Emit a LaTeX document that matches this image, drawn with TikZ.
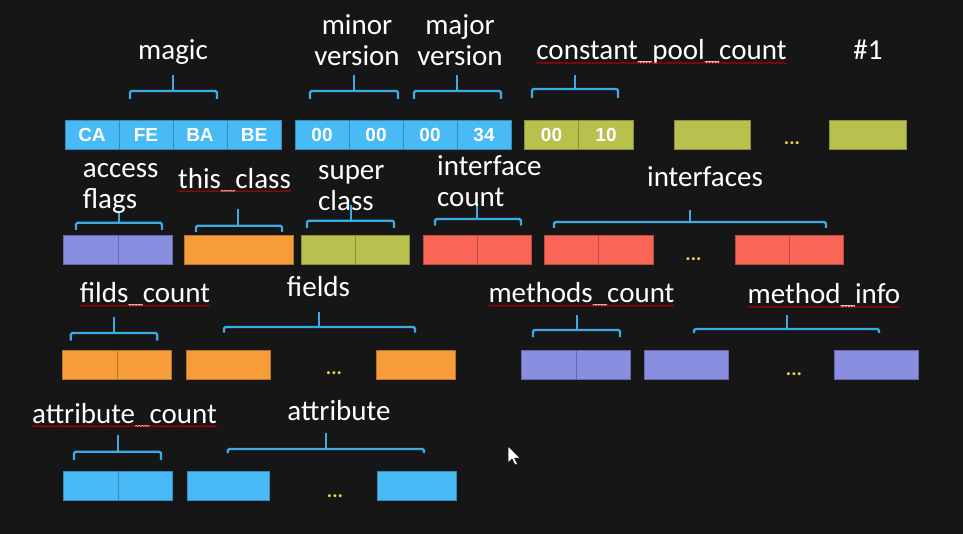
\documentclass[tikz,border=0pt]{standalone}
\usepackage{fontspec}
\setmainfont{Carlito}
\newfontfamily\zellfont{Liberation Sans}
\usetikzlibrary{decorations.pathmorphing}

\definecolor{tafel}{RGB}{22,22,22}
\definecolor{klammerblau}{RGB}{60,170,228}
\definecolor{hellblau}{RGB}{72,186,245}
\definecolor{gelbgruen}{RGB}{184,192,78}
\definecolor{lila}{RGB}{137,142,224}
\definecolor{kastorange}{RGB}{246,156,56}
\definecolor{kastrot}{RGB}{250,102,86}
\definecolor{punktgelb}{RGB}{235,210,70}

\tikzset{
	zelle/.style={draw=#1!75!black, fill=#1, line width=0.8pt, minimum height=28.5pt, inner sep=0pt,
		text=white, font=\zellfont\bfseries\fontsize{19}{19}\selectfont},
	etikett/.style={text=white, inner sep=0pt, font=\fontsize{29}{31}\selectfont},
	klammerstil/.style={draw=klammerblau, line width=2.2pt},
	punkte/.style={text=punktgelb, inner sep=0pt, font=\bfseries\fontsize{20}{20}\selectfont},
	welle/.style={draw=red!75!black, line width=0.7pt, decorate,
		decoration={snake, amplitude=0.7pt, segment length=3pt}}
}

% geschweifte Klammer: links, rechts, Stiel, y Balken, y Enden, y oben
\newcommand{\klammer}[6]{
	\draw[klammerstil, rounded corners=1.5pt] (#1,#5) -- (#1,#4) -- (#2,#4) -- (#2,#5);
	\draw[klammerstil] (#3,#4) -- (#3,#6);
}
% Rechtschreib-Welle unter einem Etikett
\newcommand{\welle}[1]{
	\draw[welle] ([yshift=-3pt]#1.base west) -- ([yshift=-3pt]#1.base east);
}

\begin{document}
\begin{tikzpicture}[x=1pt, y=-1pt]
	%Tafel
	\fill[tafel] (0,0) rectangle (963,534);
	\useasboundingbox (0,0) rectangle (963,534);

	%Zeile 1
	\node[zelle=hellblau, minimum width=54pt] (ca) at (92,135) {CA};
	\node[zelle=hellblau, minimum width=54pt] (fe) at (146,135) {FE};
	\node[zelle=hellblau, minimum width=54pt] (ba) at (200,135) {BA};
	\node[zelle=hellblau, minimum width=54pt] (be) at (254,135) {BE};
	\node[zelle=hellblau, minimum width=54pt] (mi1) at (322,135) {00};
	\node[zelle=hellblau, minimum width=54pt] (mi2) at (376,135) {00};
	\node[zelle=hellblau, minimum width=54pt] (ma1) at (430,135) {00};
	\node[zelle=hellblau, minimum width=54pt] (ma2) at (484,135) {34};
	\node[zelle=gelbgruen, minimum width=54.5pt] (cpc1) at (551.5,135) {00};
	\node[zelle=gelbgruen, minimum width=54.5pt] (cpc2) at (606,135) {10};
	\node[zelle=gelbgruen, minimum width=76pt] (cp1) at (712,135) {};
	\node[punkte, anchor=base] (dots1) at (792,145) {...};
	\node[zelle=gelbgruen, minimum width=77pt] (cp2) at (867.5,135) {};

	\klammer{130}{217}{173}{91}{99}{75}
	\klammer{310}{398}{354}{91}{99}{75}
	\klammer{414}{501}{457}{91}{99}{75}
	\klammer{532}{618}{575}{89}{98}{75}

	\node[etikett, anchor=base] (lmagic) at (173,60) {magic};
	\node[etikett, anchor=base, align=center] (lminor) at (357,66) {minor\\version};
	\node[etikett, anchor=base, align=center] (lmajor) at (460,66) {major\\version};
	\node[etikett, anchor=base] (lcpc) at (661.5,60) {constant\_pool\_count};
	\node[etikett, anchor=base] (lnr) at (868,60) {\#1};
	\welle{lcpc}

	%Zeile 2
	\node[zelle=lila, minimum width=54.5pt] (af1) at (91,250) {};
	\node[zelle=lila, minimum width=54.5pt] (af2) at (145.5,250) {};
	\node[zelle=kastorange, minimum width=109pt] (tc) at (238.5,250) {};
	\node[zelle=gelbgruen, minimum width=54pt] (sc1) at (328.5,250) {};
	\node[zelle=gelbgruen, minimum width=54pt] (sc2) at (382.5,250) {};
	\node[zelle=kastrot, minimum width=54pt] (ic1) at (450,250) {};
	\node[zelle=kastrot, minimum width=54pt] (ic2) at (504,250) {};
	\node[zelle=kastrot, minimum width=54.5pt] (if1) at (571.5,250) {};
	\node[zelle=kastrot, minimum width=54.5pt] (if2) at (626,250) {};
	\node[punkte, anchor=base] (dots2) at (693.5,261) {...};
	\node[zelle=kastrot, minimum width=54pt] (if3) at (762,250) {};
	\node[zelle=kastrot, minimum width=54pt] (if4) at (816,250) {};

	\klammer{76}{162}{119}{222.7}{230}{211.7}
	\klammer{196}{282}{238}{225.7}{232}{209}
	\klammer{307}{394}{351}{220.7}{228}{205}
	\klammer{435}{521}{477}{219}{225.7}{203}
	\klammer{554}{826}{690}{222}{228}{210}

	\node[etikett, anchor=base west, align=left] (laccess) at (82.7,208.3) {access\\flags};
	\node[etikett, anchor=base] (lthis) at (234.5,188.3) {this\_class};
	\node[etikett, anchor=base west, align=left] (lsuper) at (318,211) {super\\class};
	\node[etikett, anchor=base west, align=left] (lic) at (437,206.7) {interface\\count};
	\node[etikett, anchor=base] (lif) at (705,187) {interfaces};
	\welle{lthis}

	%Zeile 3
	\node[zelle=kastorange, minimum width=54.5pt] (fc1) at (90,365) {};
	\node[zelle=kastorange, minimum width=54.5pt] (fc2) at (144.5,365) {};
	\node[zelle=kastorange, minimum width=84pt] (fd1) at (228,365) {};
	\node[punkte, anchor=base] (dots3) at (334,374) {...};
	\node[zelle=kastorange, minimum width=79pt] (fd2) at (415.5,365) {};
	\node[zelle=lila, minimum width=54.5pt] (mc1) at (549,365) {};
	\node[zelle=lila, minimum width=54.5pt] (mc2) at (603.5,365) {};
	\node[zelle=lila, minimum width=84pt] (mt1) at (686,365) {};
	\node[punkte, anchor=base] (dots4) at (794,375) {...};
	\node[zelle=lila, minimum width=84pt] (mt2) at (876,365) {};

	\klammer{70.7}{157.3}{114}{333}{340.7}{316.7}
	\klammer{224}{415}{319}{327}{332.7}{311.7}
	\klammer{533}{620}{576.7}{330}{337}{315}
	\klammer{694}{879}{786.7}{329}{333}{315}

	\node[etikett, anchor=base] (lfc) at (145,302.7) {filds\_count};
	\node[etikett, anchor=base] (lfd) at (318.5,296.7) {fields};
	\node[etikett, anchor=base] (lmc) at (581.5,302.7) {methods\_count};
	\node[etikett, anchor=base] (lmt) at (824,304) {method\_info};
	\welle{lfc}
	\welle{lmc}
	\welle{lmt}

	%Zeile 4
	\node[zelle=hellblau, minimum width=54.5pt] (ac1) at (91,486) {};
	\node[zelle=hellblau, minimum width=54.5pt] (ac2) at (145.5,486) {};
	\node[zelle=hellblau, minimum width=82pt] (at1) at (228,486) {};
	\node[punkte, anchor=base] (dots5) at (335,497) {...};
	\node[zelle=hellblau, minimum width=79pt] (at2) at (416.5,486) {};

	\klammer{74}{161}{118}{451.7}{460}{435}
	\klammer{227.7}{424}{326}{449}{453}{433}

	\node[etikett, anchor=base] (lac) at (124.5,423.3) {attribute\_count};
	\node[etikett, anchor=base] (lat) at (339,420.7) {attribute};
	\welle{lac}

	%Mauszeiger
	\filldraw[fill=white, draw=black, line width=0.5pt] (508,446) -- (508,463) -- (512,459) -- (515,465)
		-- (517.5,464) -- (514.5,458) -- (520,458) -- cycle;
\end{tikzpicture}
\end{document}
